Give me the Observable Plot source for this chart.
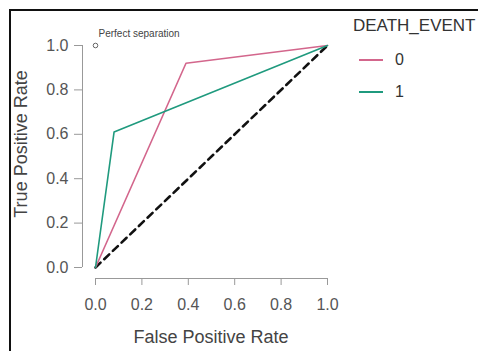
<!DOCTYPE html>
<html>
<head>
<meta charset="utf-8">
<script src="https://cdn.jsdelivr.net/npm/d3@7"></script>
<script src="https://cdn.jsdelivr.net/npm/@observablehq/plot@0.6"></script>
<style>
  html, body { margin: 0; padding: 0; background: #fff; overflow: hidden; }
  #wrap { position: relative; width: 478px; height: 351px; overflow: hidden; font-family: "Liberation Sans", Arial, sans-serif; }
  #frame { position: absolute; left: 9px; top: 9px; width: 600px; height: 500px; border: 2px solid #111; box-sizing: border-box; }
  #chart { position: absolute; left: 0; top: 0; }
  .lg { position: absolute; color: #333; line-height: 1; white-space: nowrap; }
  .lgline { position: absolute; height: 2px; }
</style>
</head>
<body>
<div id="wrap">
  <div id="frame"></div>
  <div id="chart"></div>
  <div id="legend"></div>
</div>
<script>
// ---- data ----
const groups = ["0", "1"];
const colors = ["#d3668c", "#1f9a7e"];
const fpr0 = [0, 0.39, 1];
const tpr0 = [0, 0.92, 1];
const fpr1 = [0, 0.08, 1];
const tpr1 = [0, 0.61, 1];
const diagX = [0, 1];
const diagY = [0, 1];
const xTicks = [0, 0.2, 0.4, 0.6, 0.8, 1.0];
const yTicks = [0, 0.2, 0.4, 0.6, 0.8, 1.0];
const legendTitle = "DEATH_EVENT";
const xTitle = "False Positive Rate";
const yTitle = "True Positive Rate";
const perfectLabel = "Perfect separation";

const rows = [];
[[fpr0, tpr0], [fpr1, tpr1]].forEach(([xs, ys], i) => {
  xs.forEach((x, j) => rows.push({group: groups[i], x, y: ys[j]}));
});
const diag = diagX.map((x, i) => ({x, y: diagY[i]}));

const chart = Plot.plot({
  width: 478,
  height: 351,
  marginLeft: 82,
  marginRight: 151,
  marginTop: 45,
  marginBottom: 73,
  style: {fontFamily: "Liberation Sans, Arial, sans-serif", fontSize: "16px", background: "transparent", overflow: "visible"},
  x: {domain: [0, 1], insetLeft: 13},
  y: {domain: [0, 1], insetBottom: 11},
  color: {domain: groups, range: colors},
  marks: [
    Plot.ruleX([0], {y1: 0, y2: 1, dx: -13, stroke: "#999"}),
    Plot.ruleY([0], {x1: 0, x2: 1, dy: 11, stroke: "#999"}),
    Plot.axisY({ticks: yTicks, tickSize: 8, tickPadding: 6, tickFormat: d3.format(".1f"), label: null, stroke: "#999", color: "#555", fontSize: 16}),
    Plot.axisX({ticks: xTicks, tickSize: 7, tickPadding: 13, tickFormat: d3.format(".1f"), label: null, stroke: "#999", color: "#555", fontSize: 16}),
    Plot.text([yTitle], {frameAnchor: "left", textAnchor: "middle", lineAnchor: "middle", dx: -61, dy: -18, rotate: -90, fontSize: 18, fill: "#444"}),
    Plot.text([xTitle], {frameAnchor: "bottom", textAnchor: "middle", dx: 6, dy: 64, fontSize: 18, fill: "#444"}),
    Plot.line(diag, {x: "x", y: "y", stroke: "#111", strokeWidth: 2.6, strokeDasharray: "7,5"}),
    Plot.line(rows, {x: "x", y: "y", z: "group", stroke: "group", strokeWidth: 1.6}),
    Plot.dot([{x: 0, y: 1}], {x: "x", y: "y", r: 2.3, stroke: "#666", strokeWidth: 1}),
    Plot.text([{x: 0, y: 1, t: perfectLabel}], {x: "x", y: "y", text: "t", dx: 3, dy: -12, textAnchor: "start", fontSize: 10, fill: "#444"})
  ]
});
document.getElementById("chart").appendChild(chart);

// legend
const lg = document.getElementById("legend");
const title = document.createElement("div");
title.className = "lg";
title.style.left = "353px"; title.style.top = "17px"; title.style.fontSize = "17px";
title.textContent = legendTitle;
lg.appendChild(title);
groups.forEach((g, i) => {
  const cy = 60 + i * 32;
  const ln = document.createElement("div");
  ln.className = "lgline";
  ln.style.left = "359px"; ln.style.width = "24px"; ln.style.top = (cy - 1) + "px";
  ln.style.background = colors[i];
  lg.appendChild(ln);
  const t = document.createElement("div");
  t.className = "lg";
  t.style.left = "395px"; t.style.top = (cy - 8) + "px"; t.style.fontSize = "16px";
  t.textContent = g;
  lg.appendChild(t);
});
</script>
</body>
</html>
